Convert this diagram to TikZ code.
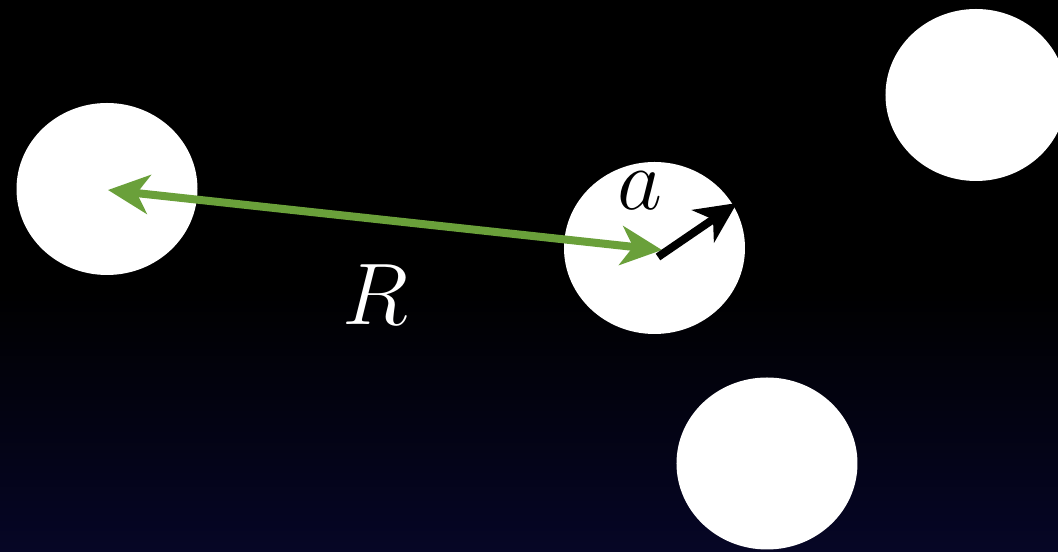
\documentclass[tikz,border=0pt]{standalone}
\usepackage{amsmath}
\usetikzlibrary{arrows.meta, shapes.geometric}
\definecolor{navy}{RGB}{6,6,38}
\definecolor{leafgreen}{RGB}{106,160,58}
\begin{document}
\begin{tikzpicture}[
  disc/.style={ellipse, fill=white, minimum width=1.81cm, minimum height=1.72cm, inner sep=0pt},
  sep/.style={{Stealth[length=4.1mm, width=3.9mm, inset=1.2mm]}-{Stealth[length=4.1mm, width=3.9mm, inset=1.2mm]}, line width=0.8mm, leafgreen},
  rad/.style={-{Stealth[length=4.1mm, width=3.9mm, inset=1.2mm]}, line width=0.8mm, black},
  sym/.style={font=\fontsize{25}{30}\selectfont, text=black}]
\useasboundingbox (0,0) rectangle (10.58,-5.52);
\fill[black] (0,0) rectangle (10.58,-5.52);
\shade[top color=black, bottom color=navy] (0,-2.9) rectangle (10.58,-5.52);
\node[disc] (left) at (1.07,-1.89) {};
\node[disc] (mid) at (6.545,-2.48) {};
\node[disc] (topr) at (9.76,-0.95) {};
\node[disc] (bot) at (7.67,-4.635) {};
\coordinate (ltip) at (1.08,-1.90);
\coordinate (mtip) at (6.62,-2.50);
\coordinate (rstart) at (6.58,-2.57);
\coordinate (rtip) at (7.37,-2.03);
\draw[sep] (ltip) -- (mtip);
\draw[rad] (rstart) -- (rtip);
\node[sym] (a) at (6.40,-1.91) {$a$};
\node[sym, text=white] (R) at (3.75,-2.95) {$R$};
\end{tikzpicture}
\end{document}
